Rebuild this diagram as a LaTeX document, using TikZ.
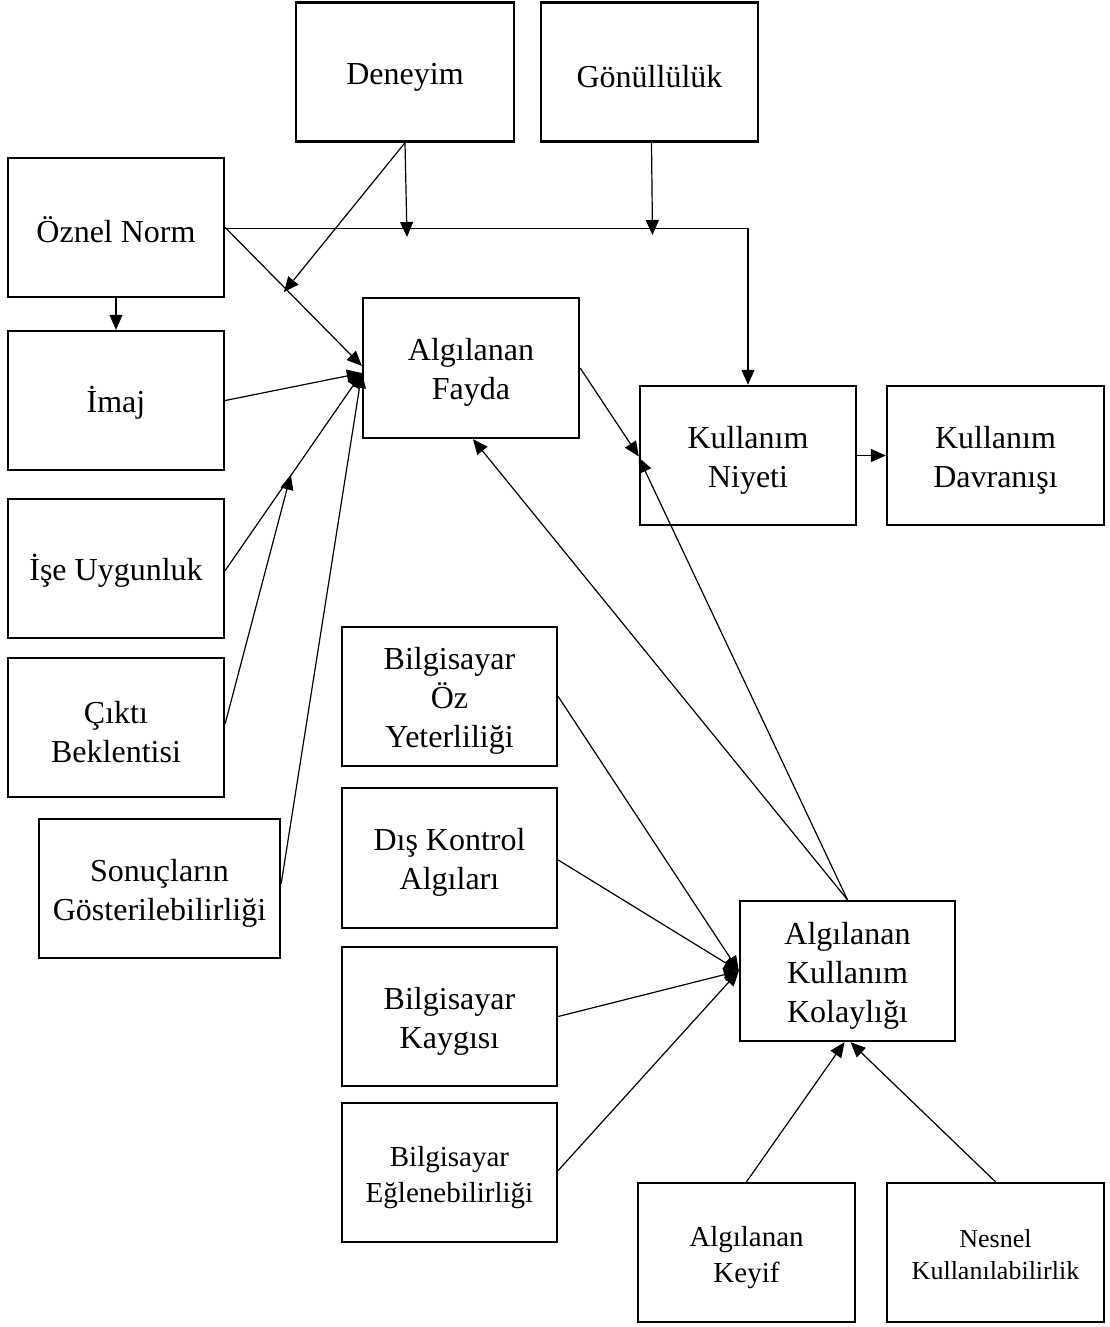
\documentclass[tikz,border=0pt]{standalone}
\usepackage{fontspec}
\setmainfont{Liberation Serif}
\usetikzlibrary{arrows.meta,calc}

\begin{document}
\begin{tikzpicture}[x=1pt,y=-1pt,
  % text height fixes the first line's box so that labels sit alike in every box
  bigtext/.style={font=\fontsize{32}{39}\selectfont, text height=31pt},
  twolines/.style={text height=70pt},
  threelines/.style={text height=109pt},
  smalltext/.style={font=\fontsize{29}{36}\selectfont, text height=65.5pt},
  tinytext/.style={font=\fontsize{26}{32}\selectfont, text height=54pt},
  box/.style={draw, line width=2.4pt, rectangle, inner sep=2pt, align=center,
    minimum width=216pt, minimum height=139pt, bigtext},
  link/.style={line width=1.2pt, -{Triangle[length=15pt,width=13pt]}}
]
\useasboundingbox (0,0) rectangle (1109,1327);

% constructs
\node[box, minimum width=218pt] (deneyim) at (405,72) {Deneyim};
\node[box, minimum width=217pt] (gonul) at (649.5,72) {Gönüllülük};
\node[box] (oznel) at (116,227.5) {Öznel Norm};
\node[box] (imaj) at (116,400.5) {İmaj};
\node[box] (ise) at (116,568.5) {İşe Uygunluk};
\node[box, twolines] (cikti) at (116,727.5) {Çıktı\\Beklentisi};
\node[box, twolines, minimum width=241pt] (sonuc) at (159.5,888.5) {Sonuçların\\Gösterilebilirliği};
\node[box, twolines, minimum height=140pt] (af) at (471,368) {Algılanan\\Fayda};
\node[box, twolines] (kn) at (748,455.5) {Kullanım\\Niyeti};
\node[box, twolines, minimum width=217pt] (kd) at (995.5,455.5) {Kullanım\\Davranışı};
\node[box, threelines, minimum width=215pt] (boy) at (449.5,696.5) {Bilgisayar\\Öz\\Yeterliliği};
\node[box, twolines, minimum width=215pt, minimum height=140pt] (dka) at (449.5,858) {Dış Kontrol\\Algıları};
\node[box, twolines, minimum width=215pt] (bk) at (449.5,1016.5) {Bilgisayar\\Kaygısı};
\node[box, smalltext, minimum width=215pt] (be) at (449.5,1172.5) {Bilgisayar\\Eğlenebilirliği};
\node[box, threelines, minimum width=215pt, minimum height=140pt] (akk) at (847.5,971) {Algılanan\\Kullanım\\Kolaylığı};
\node[box, smalltext, minimum width=217pt] (keyif) at (746.5,1252.5) {Algılanan\\Keyif};
\node[box, tinytext, minimum width=217pt] (nesnel) at (995.5,1252.5) {Nesnel\\Kullanılabilirlik};

% junction points on the paths
\coordinate (afin) at ([yshift=-5pt]af.west);
\coordinate (onorm) at ($(oznel.east)!0.43!([yshift=2pt]af.west) + (0,5)$);
\coordinate (oise) at ($(ise.east)!0.48!(afin)$);
\coordinate (mden) at ([xshift=2pt]deneyim.south |- 0,237);
\coordinate (mgon) at ([xshift=3pt]gonul.south |- 0,235);

% subjective norm paths
\draw[link] ([yshift=-1pt]oznel.east) -| (kn.north);
\draw[link] (oznel.east) -- ([yshift=2pt]af.west);
\draw[link] (oznel.south) -- (imaj.north);

% moderators
\draw[link] (deneyim.south) -- (mden);
\draw[link] (deneyim.south) -- (onorm);
\draw[link] ([xshift=2pt]gonul.south) -- (mgon);

% determinants of perceived usefulness
\draw[link] (imaj.east) -- (afin);
\draw[link] ([yshift=-2pt]ise.east) -- (afin);
\draw[link] ([yshift=4pt]cikti.east) -- (oise);
\draw[link] ([yshift=5pt]sonuc.east) -- (afin);

% main model
\draw[link] (af.east) -- ([yshift=-1pt]kn.west);
\draw[link] (kn.east) -- (kd.west);
\draw[link] (akk.north) -- ([xshift=2pt]af.south);
\draw[link] (akk.north) -- ([yshift=-2pt]kn.west);

% determinants of perceived ease of use
\draw[link] (boy.east) -- (akk.west);
\draw[link] ([yshift=-2pt]dka.east) -- (akk.west);
\draw[link] (bk.east) -- (akk.west);
\draw[link] ([yshift=2pt]be.east) -- (akk.west);
\draw[link] (keyif.north) -- ([xshift=-3pt]akk.south);
\draw[link] (nesnel.north) -- ([xshift=3pt]akk.south);
\end{tikzpicture}
\end{document}
